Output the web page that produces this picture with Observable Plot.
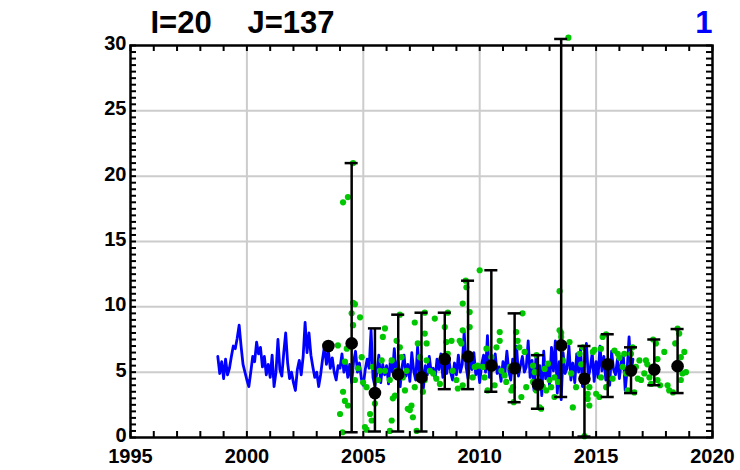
<!DOCTYPE html>
<html>
<head>
<meta charset="utf-8">
<script src="https://cdn.jsdelivr.net/npm/d3@7"></script>
<script src="https://cdn.jsdelivr.net/npm/@observablehq/plot@0.6"></script>
<style>
  html, body { margin: 0; padding: 0; background: #fff; }
</style>
</head>
<body>
<div id="chart"></div>
<script>
// ---- Data ----
const titleLeft = "I=20";
const titleMid = "J=137";
const titleRight = "1";

const xTickLabels = [1995, 2000, 2005, 2010, 2015, 2020];
const yTickLabels = [0, 5, 10, 15, 20, 25, 30];
const xGrid = [2000, 2005, 2010, 2015];
const yGrid = [5, 10, 15, 20, 25];
const xMinor = d3.range(1995, 2021, 1);
const yMinor = d3.range(0, 30.01, 0.5);

// blue series: monthly values starting Oct 1998
const blueStart = 1998.75;
const blueValues = [
  6.2, 4.9, 5.8,
  4.5, 6.0, 4.8, 5.3, 6.2, 7.0, 6.8, 7.6, 8.6, 7.0, 5.6, 5.0,
  4.4, 3.9, 5.0, 6.2, 5.8, 7.3, 6.4, 6.9, 5.4, 6.2, 4.8, 5.6,
  4.6, 6.3, 3.9, 5.0, 7.5, 5.2, 4.7, 6.5, 8.0, 5.7, 4.5, 5.0,
  4.2, 3.6, 5.2, 5.9, 4.8, 6.2, 8.8, 6.5, 8.0, 6.3, 5.4, 4.6,
  5.0, 3.9, 4.8, 6.0, 7.0, 5.6, 6.6, 5.3, 6.1, 5.0, 4.4, 5.5,
  5.3, 6.4, 5.0, 5.9, 4.6, 5.6, 4.2, 5.8, 6.6, 5.0, 5.7, 4.5,
  4.0, 5.2, 6.0, 5.3, 8.2, 4.6, 3.9, 5.0, 6.3, 4.2, 5.6, 4.8,
  5.5, 4.1, 6.0, 5.0, 6.8, 4.5, 5.9, 3.9, 5.4, 6.3, 4.7, 5.6,
  4.3, 6.5, 5.1, 4.4, 7.0, 4.6, 5.8, 3.8, 5.5, 4.8, 6.2, 5.0,
  5.3, 4.5, 6.0, 5.2, 6.4, 4.6, 5.6, 4.9, 6.1, 5.0, 4.4, 5.7,
  4.8, 6.3, 5.0, 5.6, 8.1, 5.4, 4.5, 6.0, 5.2, 6.5, 4.8, 5.5,
  4.2, 5.6, 6.3, 5.0, 7.8, 4.6, 5.9, 5.2, 6.4, 4.9, 5.4, 4.3,
  5.8, 4.9, 6.6, 5.1, 4.4, 6.0, 5.3, 7.0, 4.7, 5.5, 6.2, 5.0,
  5.4, 7.4, 4.6, 5.9, 3.6, 6.2, 4.8, 5.5, 3.2, 6.6, 4.5, 5.6,
  4.0, 6.9, 5.1, 7.4, 3.4, 5.8, 2.9, 6.5, 4.9, 5.3, 7.0, 4.4,
  5.7, 4.2, 6.4, 5.0, 6.8, 3.9, 5.6, 7.2, 4.6, 5.3, 6.5, 4.3,
  5.8, 4.6, 7.0, 5.1, 6.2, 4.4, 5.6, 4.0, 6.6, 5.2, 4.8, 6.0,
  4.5, 5.8, 6.4, 3.6, 5.2, 7.7, 4.9, 6.0
];

// green observations [decimal year, value]
const greenPoints = [
  [2003.5, 7.0],
  [2004.11, 0.4], [2003.91, 7.05], [2004.29, 6.8], [2004.21, 5.8], [2004.13, 3.5], [2004.21, 2.8],
  [2004.34, 2.45], [2004.56, 10.3], [2004.64, 10.2], [2004.50, 9.5], [2004.86, 9.2], [2004.64, 4.4],
  [2004.77, 5.3], [2004.93, 6.15], [2004.56, 8.6], [2004.0, 1.8], [2004.13, 18.0], [2004.34, 18.4], [2004.56, 21.0],
  [2005.07, 0.8], [2005.14, 0.6], [2005.36, 1.3], [2005.29, 1.8], [2004.99, 4.2], [2005.14, 3.85], [2005.5, 2.6],
  [2005.71, 5.1], [2005.93, 8.35], [2005.84, 7.7], [2005.79, 5.9], [2005.63, 4.4], [2005.93, 5.1], [2005.41, 5.4],
  [2006.22, 1.3], [2006.14, 0.5], [2006.27, 3.0], [2006.36, 3.2], [2006.43, 7.4], [2006.57, 6.9], [2006.64, 6.15],
  [2006.57, 9.4], [2006.7, 4.6], [2006.79, 3.6], [2006.43, 5.1], [2006.86, 5.1], [2006.14, 4.4], [2006.22, 5.9],
  [2007.0, 2.1], [2007.07, 2.45], [2006.91, 2.2], [2007.13, 1.55], [2007.29, 0.5], [2007.21, 8.8], [2007.34, 7.2],
  [2007.43, 6.15], [2007.64, 9.55], [2007.64, 7.95], [2007.72, 7.2], [2007.64, 4.4], [2007.56, 3.5], [2007.72, 5.9],
  [2007.21, 3.85], [2007.86, 5.1],
  [2008.07, 9.1], [2008.14, 4.5], [2008.0, 4.9], [2008.5, 8.45], [2008.63, 9.55], [2008.57, 7.3], [2008.79, 7.4],
  [2008.41, 6.15], [2008.63, 6.4], [2008.29, 4.1], [2009.0, 4.4], [2008.84, 5.1], [2009.06, 3.75],
  [2009.21, 7.2], [2009.27, 8.2], [2009.27, 10.25], [2009.43, 11.5], [2009.4, 12.0], [2009.57, 9.6], [2009.57, 8.45],
  [2009.27, 4.0], [2009.7, 4.6], [2009.79, 5.4], [2009.14, 7.4],
  [2010.0, 12.8], [2009.91, 5.5], [2010.14, 5.4], [2010.21, 4.6], [2010.29, 6.8], [2010.72, 6.9], [2010.86, 8.07],
  [2010.86, 7.4], [2010.64, 4.0], [2010.5, 6.15], [2010.93, 5.1], [2010.57, 5.4], [2010.34, 3.6],
  [2011.84, 9.5], [2011.57, 8.07], [2011.63, 7.4], [2011.7, 6.9], [2011.07, 4.75], [2011.29, 5.4], [2011.14, 4.25],
  [2011.43, 3.85], [2011.36, 3.6], [2011.93, 6.55], [2012.0, 3.85], [2011.79, 3.1], [2011.46, 2.7],
  [2012.29, 5.5], [2012.36, 5.0], [2012.79, 5.25], [2012.93, 5.65], [2012.57, 2.3], [2012.64, 2.2], [2012.43, 3.6],
  [2012.86, 3.6], [2013.0, 4.4], [2012.29, 4.25], [2012.71, 3.9], [2012.44, 6.3],
  [2013.81, 30.6], [2013.43, 11.2], [2013.43, 8.2], [2013.5, 7.7], [2013.86, 7.3], [2013.57, 5.9], [2013.21, 4.6],
  [2013.07, 3.85], [2013.36, 4.25], [2013.93, 4.9], [2013.21, 3.1], [2013.5, 8.0],
  [2014.0, 2.3], [2014.29, 6.4], [2014.43, 6.9], [2014.71, 3.85], [2014.64, 3.35], [2014.71, 2.45], [2014.5, 0.1],
  [2014.14, 3.85], [2014.86, 6.55], [2014.93, 6.7], [2014.64, 2.95], [2014.36, 5.6],
  [2015.0, 3.35], [2015.14, 3.1], [2015.21, 6.8], [2015.28, 7.7], [2015.43, 7.9], [2015.21, 4.6], [2015.57, 5.4],
  [2015.79, 6.65], [2015.93, 6.4], [2015.71, 4.5], [2015.43, 3.85], [2016.0, 6.1],
  [2016.14, 5.4], [2016.29, 4.9], [2016.5, 6.4], [2016.57, 6.9], [2016.36, 3.6], [2016.64, 3.45], [2016.71, 5.4],
  [2016.86, 5.9], [2016.79, 4.5], [2016.21, 6.4],
  [2017.07, 4.9], [2017.14, 5.9], [2017.2, 5.6], [2017.29, 4.6], [2017.36, 4.1], [2017.64, 6.0], [2017.57, 7.2],
  [2017.64, 4.4], [2017.5, 5.1], [2016.93, 4.4], [2017.45, 7.5], [2017.75, 4.0],
  [2017.93, 6.55], [2018.07, 4.0], [2018.14, 3.6], [2018.3, 3.45], [2018.5, 8.33], [2018.57, 7.95], [2018.64, 6.15],
  [2018.71, 4.9], [2018.79, 6.55], [2018.86, 5.0], [2018.64, 4.4], [2018.4, 7.2]
];

// annual summaries
const annualYear = [2003.5, 2004.5, 2005.5, 2006.5, 2007.5, 2008.5, 2009.5, 2010.5, 2011.5, 2012.5, 2013.5, 2014.5, 2015.5, 2016.5, 2017.5, 2018.5];
const annualMean = [7.0, 7.2, 3.4, 4.83, 4.6, 6.0, 6.2, 5.5, 5.3, 4.06, 7.05, 4.5, 5.6, 5.13, 5.2, 5.46];
const annualLow  = [7.0, 0.4, 0.46, 0.46, 0.46, 3.7, 3.7, 3.5, 2.7, 2.2, 3.1, 0.07, 3.1, 3.4, 4.0, 3.4];
const annualHigh = [7.0, 21.0, 8.35, 9.4, 9.55, 9.55, 12.0, 12.8, 9.5, 6.3, 30.5, 7.0, 7.9, 6.9, 7.5, 8.3];

// ---- Build tables ----
const blue = blueValues.map((v, i) => ({t: blueStart + i / 12, v}));
const green = greenPoints.map(([t, v]) => ({t, v}));
const annual = annualYear.map((t, i) => ({t, m: annualMean[i], lo: annualLow[i], hi: annualHigh[i]}));
const bars = annual.filter(d => d.hi > d.lo);

const W = 740, H = 470;
const mL = 130, mR = 28, mT = 45, mB = 33;
const innerW = W - mL - mR, innerH = H - mT - mB;
const tickLen = 6;
const capHalf = 0.28;

const chart = Plot.plot({
  width: W,
  height: H,
  marginLeft: mL,
  marginRight: mR,
  marginTop: mT,
  marginBottom: mB,
  x: {domain: [1995, 2020], axis: null},
  y: {domain: [0, 30], axis: null},
  style: {fontFamily: "'Liberation Sans', Arial, sans-serif", fontWeight: "bold", background: "#fff", overflow: "visible"},
  marks: [
    Plot.ruleX(xGrid, {stroke: "#cccccc", strokeWidth: 2}),
    Plot.ruleY(yGrid, {stroke: "#cccccc", strokeWidth: 2}),
    Plot.line(blue, {x: "t", y: "v", stroke: "#0000ff", strokeWidth: 2.8}),
    Plot.dot(green, {x: "t", y: "v", r: 3.1, fill: "#00c800", stroke: "none"}),
    Plot.ruleX(bars, {x: "t", y1: "lo", y2: "hi", stroke: "black", strokeWidth: 2.5}),
    Plot.ruleY(bars, {y: "hi", x1: d => d.t - capHalf, x2: d => d.t + capHalf, stroke: "black", strokeWidth: 2.5}),
    Plot.ruleY(bars, {y: "lo", x1: d => d.t - capHalf, x2: d => d.t + capHalf, stroke: "black", strokeWidth: 2.5}),
    Plot.dot(annual, {x: "t", y: "m", r: 6.3, fill: "black", stroke: "none"}),
    // inward minor ticks
    Plot.tickX(xMinor, {x: d => d, insetTop: innerH - tickLen, stroke: "black", strokeWidth: 2}),
    Plot.tickX(xMinor, {x: d => d, insetBottom: innerH - tickLen, stroke: "black", strokeWidth: 2}),
    Plot.tickY(yMinor, {y: d => d, insetRight: innerW - tickLen, stroke: "black", strokeWidth: 2}),
    Plot.tickY(yMinor, {y: d => d, insetLeft: innerW - tickLen, stroke: "black", strokeWidth: 2}),
    Plot.frame({stroke: "black", strokeWidth: 2.5}),
    // tick labels
    Plot.text(xTickLabels, {x: d => d, text: d => String(d), frameAnchor: "bottom", lineAnchor: "top", dy: 11, fontSize: 20, fill: "black"}),
    Plot.text(yTickLabels, {y: d => d, text: d => String(d), frameAnchor: "left", textAnchor: "end", dx: -4, dy: -2, fontSize: 20, fill: "black"}),
    // titles
    Plot.text([titleLeft], {frameAnchor: "top-left", text: d => d, textAnchor: "start", lineAnchor: "bottom", dx: 20, dy: -13, fontSize: 31, fill: "black"}),
    Plot.text([titleMid], {frameAnchor: "top-left", text: d => d, textAnchor: "start", lineAnchor: "bottom", dx: 117, dy: -13, fontSize: 31, fill: "black"}),
    Plot.text([titleRight], {frameAnchor: "top-right", text: d => d, textAnchor: "end", lineAnchor: "bottom", dx: 0, dy: -13, fontSize: 31, fill: "#0000ff"})
  ]
});
document.getElementById("chart").appendChild(chart);
</script>
</body>
</html>
